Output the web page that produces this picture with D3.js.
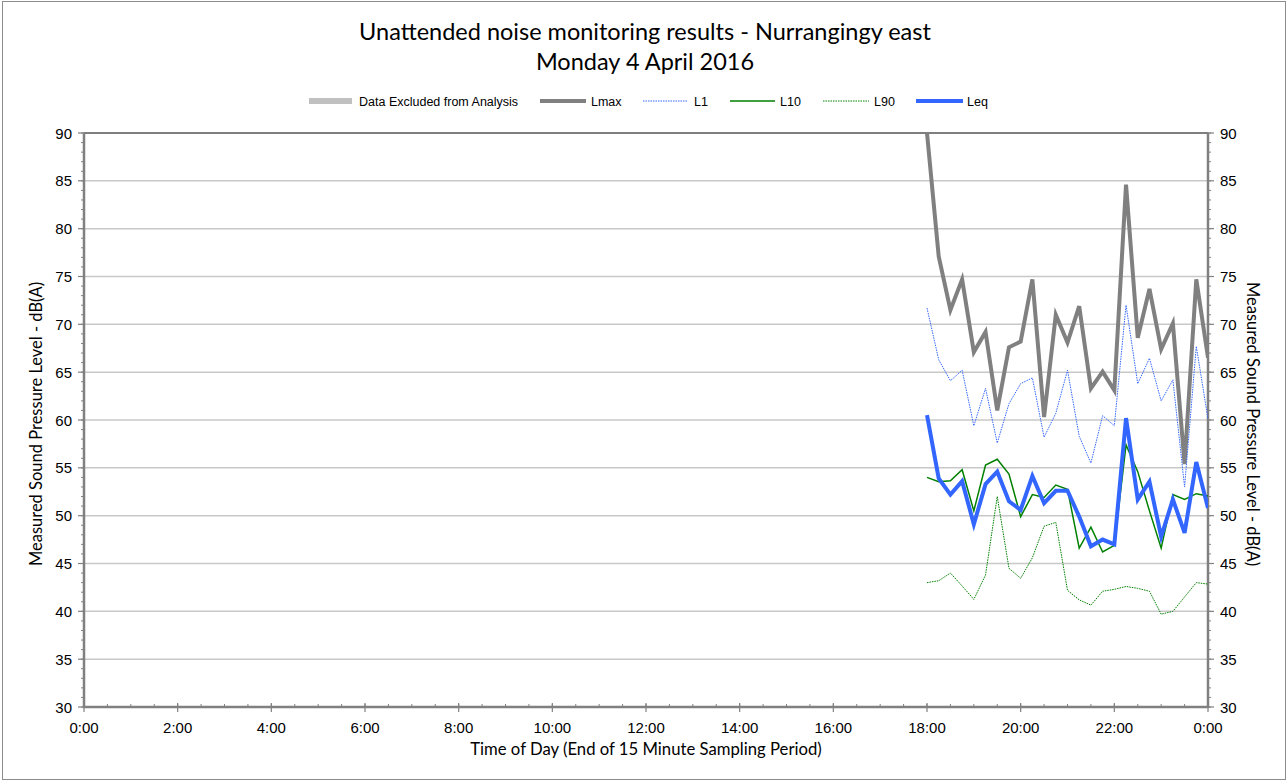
<!DOCTYPE html>
<html><head><meta charset="utf-8">
<script src="https://cdn.jsdelivr.net/npm/d3@7"></script>
<style>body{margin:0;background:#fff}</style>
</head><body><svg id="c" width="1288" height="782"></svg>
<script>
const times = ["18:00","18:15","18:30","18:45","19:00","19:15","19:30","19:45","20:00","20:15","20:30","20:45","21:00","21:15","21:30","21:45","22:00","22:15","22:30","22:45","23:00","23:15","23:30","23:45","24:00"];
const lmax = [90.0,77.1,71.5,74.7,67.1,69.2,61.0,67.6,68.2,74.7,60.3,71.0,68.1,71.9,63.3,65.05,63.1,84.6,68.6,73.7,67.4,70.1,55.4,74.7,66.5];
const l1   = [71.7,66.3,64.1,65.2,59.4,63.3,57.6,61.7,63.8,64.4,58.2,60.7,65.2,58.3,55.5,60.45,59.4,72.0,63.8,66.45,62.0,64.2,53.0,67.7,60.1];
const l10  = [54.0,53.55,53.65,54.8,50.5,55.3,55.9,54.35,49.9,52.2,51.9,53.2,52.75,46.6,48.8,46.2,46.9,57.4,54.6,50.5,46.6,52.2,51.7,52.3,52.05];
const l90  = [43.0,43.2,44.0,42.65,41.25,43.8,52.0,44.5,43.45,45.6,48.9,49.3,42.2,41.2,40.65,42.1,42.3,42.6,42.4,42.1,39.7,40.0,41.5,43.0,42.85];
const leq  = [60.5,53.9,52.2,53.6,49.1,53.3,54.6,51.5,50.6,54.15,51.3,52.6,52.6,49.9,46.8,47.5,47.0,60.2,51.7,53.55,47.8,51.7,48.2,55.6,50.8];
const xTickLabels = ["0:00","2:00","4:00","6:00","8:00","10:00","12:00","14:00","16:00","18:00","20:00","22:00","0:00"];
const yTicks = [30,35,40,45,50,55,60,65,70,75,80,85,90];

const svg = d3.select("#c");
const L=84,R=1208,T=133,B=707;
const hrs = t => {const [h,m]=t.split(":").map(Number);return h+m/60;};
const x = d3.scaleLinear().domain([0,24]).range([L,R]);
const y = d3.scaleLinear().domain([30,90]).range([B,T]);
const humanist = "Lato, 'Open Sans', sans-serif";
const arial = "'Liberation Sans', Arial, sans-serif";

svg.append("rect").attr("x",2.5).attr("y",1.5).attr("width",1283).attr("height",778).attr("fill","none").attr("stroke","#8c8c8c").attr("stroke-width",1);

// title
svg.append("text").attr("x",645).attr("y",40).attr("text-anchor","middle").attr("font-family",humanist).attr("font-size",23.5).attr("fill","#000").text("Unattended noise monitoring results - Nurrangingy east");
svg.append("text").attr("x",645).attr("y",70).attr("text-anchor","middle").attr("font-family",humanist).attr("font-size",23.5).attr("fill","#000").text("Monday 4 April 2016");

// gridlines
svg.append("g").selectAll("line").data(yTicks.filter(v=>v>30&&v<90)).join("line")
  .attr("x1",L).attr("x2",R).attr("y1",d=>y(d)).attr("y2",d=>y(d)).attr("stroke","#c8c8c8").attr("stroke-width",1.5);
svg.append("line").attr("x1",L).attr("x2",R).attr("y1",T).attr("y2",T).attr("stroke","#000").attr("stroke-width",1.2);

// axes
const axisCol="#808080";
const minorY = d3.range(30,91,1);
function yAxis(side){
  const g=svg.append("g");
  const ax = side==="left"?L:R, dir = side==="left"?-1:1;
  g.selectAll(".mn").data(minorY).join("line").attr("x1",ax).attr("x2",ax+dir*3).attr("y1",d=>y(d)).attr("y2",d=>y(d)).attr("stroke",axisCol).attr("stroke-width",1);
  g.selectAll(".mj").data(yTicks).join("line").attr("x1",ax).attr("x2",ax+dir*6).attr("y1",d=>y(d)).attr("y2",d=>y(d)).attr("stroke",axisCol).attr("stroke-width",1.2);
  g.selectAll("text").data(yTicks).join("text").attr("x",side==="left"?ax-12:ax+12).attr("y",d=>y(d)+5.5)
    .attr("text-anchor",side==="left"?"end":"start").attr("font-family",arial).attr("font-size",15).attr("fill","#000").text(d=>d);
  g.append("line").attr("x1",ax).attr("x2",ax).attr("y1",T).attr("y2",B+1).attr("stroke",axisCol).attr("stroke-width",2.5);
}
yAxis("left"); yAxis("right");

const gx = svg.append("g");
gx.selectAll(".mn").data(d3.range(0,24.01,0.5)).join("line").attr("x1",d=>x(d)).attr("x2",d=>x(d)).attr("y1",B).attr("y2",B-3).attr("stroke",axisCol).attr("stroke-width",1);
gx.selectAll(".mj").data(d3.range(0,25,2)).join("line").attr("x1",d=>x(d)).attr("x2",d=>x(d)).attr("y1",B-4).attr("y2",B+5).attr("stroke",axisCol).attr("stroke-width",1.2);
gx.append("line").attr("x1",L-1).attr("x2",R+1).attr("y1",B).attr("y2",B).attr("stroke",axisCol).attr("stroke-width",2.5);
gx.selectAll("text").data(xTickLabels).join("text").attr("x",(d,i)=>x(i*2)).attr("y",733).attr("text-anchor","middle")
  .attr("font-family",arial).attr("font-size",15).attr("fill","#000").text(d=>d);

// axis titles
svg.append("text").attr("x",646).attr("y",755).attr("text-anchor","middle").attr("font-family",humanist).attr("font-size",16.7).attr("fill","#000").text("Time of Day (End of 15 Minute Sampling Period)");
svg.append("text").attr("transform","translate(42,424) rotate(-90)").attr("text-anchor","middle").attr("font-family",humanist).attr("font-size",16.5).attr("fill","#000").text("Measured Sound Pressure Level - dB(A)");
svg.append("text").attr("transform","translate(1247,424) rotate(90)").attr("text-anchor","middle").attr("font-family",humanist).attr("font-size",16.5).attr("fill","#000").text("Measured Sound Pressure Level - dB(A)");

// series
svg.append("defs").append("clipPath").attr("id","pc").append("rect").attr("x",L).attr("y",T-2).attr("width",R-L).attr("height",B-T+2);
const series = [
  {name:"Lmax",data:lmax,color:"#808080",w:4,dash:null},
  {name:"L1",data:l1,color:"#3366ff",w:1,dash:"1.5,1"},
  {name:"L10",data:l10,color:"#008000",w:1.5,dash:null},
  {name:"L90",data:l90,color:"#008000",w:1,dash:"1.5,1"},
  {name:"Leq",data:leq,color:"#3366ff",w:4,dash:null}
];
const line = d3.line().x(d=>x(d[0])).y(d=>y(d[1]));
const gs = svg.append("g").attr("clip-path","url(#pc)");
series.forEach(s=>{
  const pts = times.map((t,i)=>[hrs(t),s.data[i]]);
  gs.append("path").attr("d",line(pts)).attr("fill","none").attr("stroke",s.color).attr("stroke-width",s.w)
    .attr("stroke-dasharray",s.dash).attr("stroke-linejoin","miter");
});

// legend
const leg = [
  {name:"Data Excluded from Analysis",color:"#c0c0c0",w:6,dash:null,x0:309,x1:352,tx:359},
  {name:"Lmax",color:"#808080",w:4,dash:null,x0:540,x1:586,tx:591},
  {name:"L1",color:"#3366ff",w:1,dash:"1.5,1",x0:643,x1:688,tx:694},
  {name:"L10",color:"#008000",w:1.5,dash:null,x0:730,x1:775,tx:780},
  {name:"L90",color:"#008000",w:1,dash:"1.5,1",x0:823,x1:869,tx:874},
  {name:"Leq",color:"#3366ff",w:4,dash:null,x0:916,x1:963,tx:967}
];
const gl = svg.append("g");
leg.forEach(l=>{
  gl.append("line").attr("x1",l.x0).attr("x2",l.x1).attr("y1",101).attr("y2",101).attr("stroke",l.color).attr("stroke-width",l.w).attr("stroke-dasharray",l.dash);
  gl.append("text").attr("x",l.tx).attr("y",105.5).attr("font-family",arial).attr("font-size",12.5).attr("fill","#000").text(l.name);
});
</script></body></html>
